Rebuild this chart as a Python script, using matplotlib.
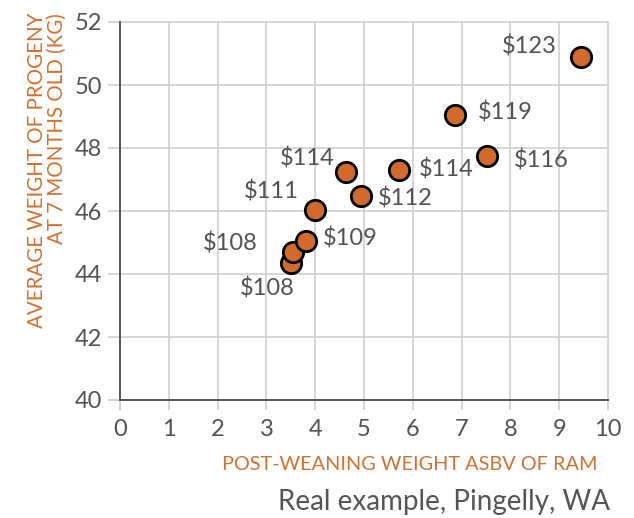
import matplotlib
matplotlib.use("Agg")
import matplotlib.pyplot as plt

# ---- data ----
asbv = [3.51, 3.55, 3.82, 4.00, 4.63, 4.94, 5.71, 6.86, 7.53, 9.45]
progeny_wt = [44.35, 44.70, 45.05, 46.03, 47.24, 46.48, 47.30, 49.05, 47.75, 50.89]
price_labels = ["$108", "$108", "$109", "$111", "$114", "$112", "$114", "$119", "$116", "$123"]
x_ticks = [0, 1, 2, 3, 4, 5, 6, 7, 8, 9, 10]
y_ticks = [40, 42, 44, 46, 48, 50, 52]

# label placement (pixel offsets, alignment)
label_offsets = [(-24, -26, "center"), (-36, 8, "right"), (16, 2, "left"), (-16, 19, "right"),
                 (-11, 13, "right"), (17, -3, "left"), (20, 1, "left"), (23, 2, "left"),
                 (26, -5, "left"), (-24, 10, "right")]

ORANGE = "#D36A2D"
LABEL_ORANGE = "#D4702F"
TEXT = "#525252"
GRID = "#CFCFCF"
SPINE = "#555555"
FONT = "Lato"

plt.rcParams["font.family"] = [FONT, "DejaVu Sans"]

fig = plt.figure(figsize=(6.34, 5.18), dpi=100)
ax = fig.add_axes([120/634, 1-400/518, 488/634, 378/518])

ax.set_xlim(0, 10)
ax.set_ylim(40, 52)
ax.set_xticks(x_ticks)
ax.set_yticks(y_ticks)
ax.set_xticklabels([str(v) for v in x_ticks], fontsize=17, color=TEXT)
ax.set_yticklabels([str(v) for v in y_ticks], fontsize=17, color=TEXT)

ax.grid(True, color=GRID, linewidth=1.2, zorder=0)
for gl in ax.get_xgridlines() + ax.get_ygridlines():
    gl.set_clip_on(False)
ax.set_axisbelow(True)

for s in ["top", "right"]:
    ax.spines[s].set_visible(False)
for s in ["left", "bottom"]:
    ax.spines[s].set_color(SPINE)
    ax.spines[s].set_linewidth(1.4)
    ax.spines[s].set_zorder(2)

ax.tick_params(axis="y", length=9, width=1.2, color=GRID, pad=4)
ax.tick_params(axis="x", length=7, width=1.2, color=GRID, pad=7)
t0 = ax.yaxis.get_major_ticks()[0]
t0.tick1line.set_color(SPINE); t0.tick1line.set_markeredgewidth(1.4)
x0 = ax.xaxis.get_major_ticks()[0]
x0.tick1line.set_color(SPINE); x0.tick1line.set_markeredgewidth(1.4)

ax.scatter(asbv, progeny_wt, s=215, color=ORANGE, edgecolor="black", linewidth=2.0, zorder=5, clip_on=False)

for xv, yv, lab, (dx, dy, ha) in zip(asbv, progeny_wt, price_labels, label_offsets):
    ax.annotate(lab, (xv, yv), xytext=(dx, dy), textcoords="offset pixels",
                ha=ha, va="center", fontsize=17, color=TEXT,
                parse_math=False, zorder=6)

fig.text(47/634, 1-13/518, "AVERAGE WEIGHT OF PROGENY\nAT 7 MONTHS OLD (KG)", rotation=90,
         ha="center", va="top", multialignment="right", fontsize=14.8, color=LABEL_ORANGE,
         linespacing=0.95)
fig.text(597/634, 1-465/518, "POST-WEANING WEIGHT ASBV OF RAM", ha="right", va="center",
         fontsize=14.3, color=LABEL_ORANGE)
fig.text(610/634, 1-502/518, "Real example, Pingelly, WA", ha="right", va="center",
         fontsize=20, color="#555555")

fig.savefig("out.png", dpi=100)
